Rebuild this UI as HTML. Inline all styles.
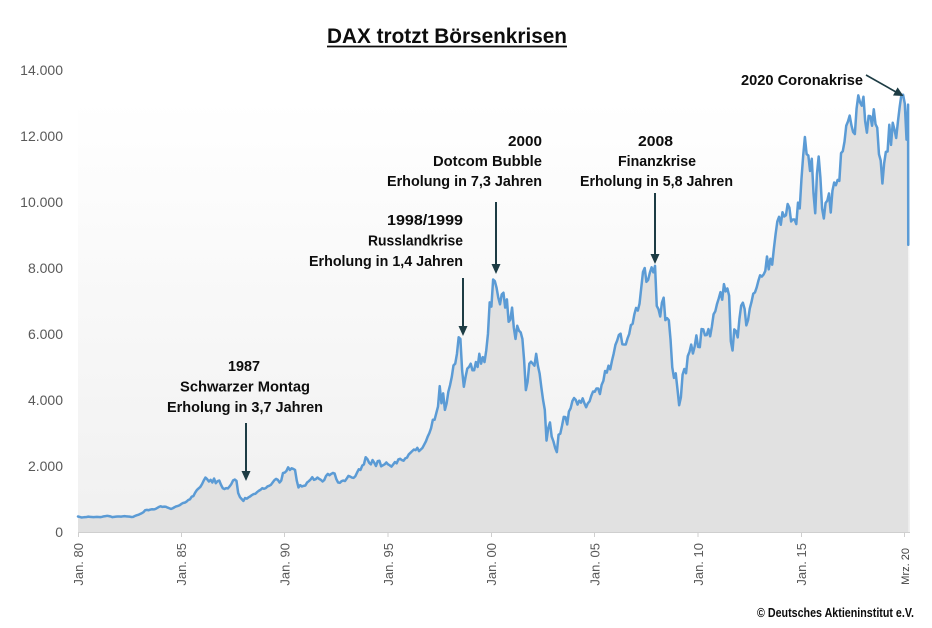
<!DOCTYPE html>
<html>
<head>
<meta charset="utf-8">
<style>
  html, body { margin: 0; padding: 0; background: #ffffff; }
  body { width: 932px; height: 628px; overflow: hidden; }
  svg { display: block; }
  .lbl { font-family: "Liberation Sans", sans-serif; fill: #595959; }
  .ann { font-family: "Liberation Sans", sans-serif; font-weight: bold; font-size: 15px; fill: #0d0d0d; }
</style>
</head>
<body>
<svg width="932" height="628" viewBox="0 0 932 628" xmlns="http://www.w3.org/2000/svg">
  <defs>
    <linearGradient id="bg" x1="0" y1="0" x2="0" y2="1">
      <stop offset="0" stop-color="#ffffff"/>
      <stop offset="1" stop-color="#f0f0f0"/>
    </linearGradient>
  </defs>

  <!-- plot background -->
  <rect x="78" y="100" width="832" height="432" fill="url(#bg)"/>

  <!-- area + line in data coordinates -->
  <g transform="translate(78,532) scale(1.7225,-0.033)">
    <polygon id="area" fill="#e1e1e1" stroke="none" points="0,470 1,455 2,440 3,445 4,450 5,455 6,465 7,460 8,455 9,450 10,455 11,460 12,455 13,450 14,460 15,475 16,480 17,490 18,480 19,470 20,450 21,460 22,465 23,470 24,470 25,465 26,475 27,480 28,475 29,470 30,465 31,455 32,460 33,485 34,505 35,520 36,545 37,570 38,600 39,660 40,670 41,660 42,680 43,690 44,685 45,700 46,730 47,760 48,780 49,760 50,770 51,765 52,740 53,720 54,700 55,720 56,750 57,775 58,790 59,810 60,850 61,880 62,890 63,920 64,970 65,990 66,1070 67,1090 68,1190 69,1270 70,1320 71,1366 72,1450 73,1560 74,1650 75,1600 76,1530 77,1580 78,1500 79,1620 80,1480 81,1540 82,1560 83,1432 84,1330 85,1300 86,1330 87,1320 88,1380 89,1450 90,1560 91,1590 92,1550 93,1180 94,1060 95,1000 96,940 97,1030 98,1010 99,1050 100,1080 101,1120 102,1150 103,1160 104,1210 105,1250 106,1280 107,1328 108,1310 109,1330 110,1380 111,1400 112,1430 113,1500 114,1570 115,1610 116,1580 117,1500 118,1560 119,1790 120,1800 121,1850 122,1960 123,1880 124,1930 125,1910 126,1880 127,1560 128,1350 129,1420 130,1380 131,1398 132,1410 133,1500 134,1540 135,1590 136,1660 137,1580 138,1600 139,1650 140,1610 141,1580 142,1530 143,1578 144,1700 145,1760 146,1720 147,1760 148,1790 149,1770 150,1600 151,1500 152,1490 153,1540 154,1560 155,1545 156,1620 157,1700 158,1680 159,1650 160,1640 161,1690 162,1800 163,1900 164,1880 165,2010 166,2050 167,2266 168,2210 169,2100 170,2050 171,2180 172,2100 173,2000 174,2150 175,2160 176,1990 177,2020 178,2050 179,2107 180,2050 181,2020 182,1980 183,2050 184,2120 185,2080 186,2200 187,2220 188,2180 189,2160 190,2230 191,2253 192,2350 193,2400 194,2450 195,2500 196,2480 197,2550 198,2450 199,2500 200,2550 201,2650 202,2750 203,2888 204,3000 205,3150 206,3400 207,3400 208,3600 209,3800 210,4420 211,3900 212,4200 213,3700 214,3900 215,4249 216,4450 217,4700 218,5050 219,5100 220,5400 221,5900 222,5850 223,4900 224,4400 225,4700 226,4950 227,5002 228,5100 229,4900 230,4900 231,5150 232,5000 233,5400 234,5100 235,5300 236,5150 237,5500 238,6000 239,6958 240,6830 241,7650 242,7600 243,7400 244,7100 245,6900 246,7200 247,7250 248,6800 249,7050 250,6370 251,6433 252,6800 253,6200 254,5850 255,6250 256,6100 257,6050 258,5850 259,5200 260,4300 261,4550 262,5100 263,5160 264,5100 265,5040 266,5400 267,5040 268,4800 269,4380 270,4000 271,3700 272,2770 273,3150 274,3320 275,2892 276,2750 277,2550 278,2420 279,2950 280,2980 281,3220 282,3490 283,3480 284,3260 285,3650 286,3750 287,3965 288,4060 289,4000 290,3860 291,3980 292,3920 293,4050 294,3900 295,3780 296,3900 297,3960 298,4130 299,4256 300,4250 301,4350 302,4350 303,4180 304,4460 305,4580 306,4880 307,4830 308,5040 309,4930 310,5190 311,5408 312,5670 313,5800 314,5970 315,6010 316,5690 317,5680 318,5680 319,5860 320,6000 321,6270 322,6310 323,6597 324,6790 325,6710 326,6920 327,7400 328,7880 329,8000 330,7580 331,7640 332,7860 333,8020 334,7870 335,8067 336,6850 337,6750 338,6530 339,6950 340,7100 341,6420 342,6480 343,6420 344,5830 345,4990 346,4670 347,4810 348,4340 349,3840 350,4080 351,4770 352,4940 353,4810 354,5330 355,5460 356,5680 357,5410 358,5620 359,5957 360,5610 361,5600 362,6150 363,6140 364,5960 365,5970 366,6150 367,5930 368,6230 369,6600 370,6690 371,6914 372,7080 373,7270 374,7040 375,7510 376,7290 377,7380 378,7160 379,5780 380,5500 381,6140 382,6090 383,5898 384,6460 385,6860 386,6950 387,6760 388,6260 389,6420 390,6770 391,6970 392,7220 393,7260 394,7410 395,7612 396,7780 397,7740 398,7800 399,7910 400,8350 401,7960 402,8280 403,8100 404,8590 405,9030 406,9410 407,9552 408,9310 409,9690 410,9560 411,9600 412,9940 413,9830 414,9410 415,9470 416,9470 417,9330 418,9980 419,9806 420,10690 421,11400 422,11970 423,11450 424,11410 425,10940 426,11310 427,10260 428,9660 429,10850 430,11380 431,10743 432,9800 433,9500 434,9970 435,10040 436,10260 437,9680 438,10340 439,10590 440,10510 441,10670 442,10640 443,11481 444,11540 445,11830 446,12310 447,12440 448,12620 449,12330 450,12120 451,12060 452,12830 453,13230 454,13020 455,12918 456,13190 457,12440 458,12100 459,12610 460,12600 461,12310 462,12810 463,12360 464,12250 465,11450 466,11260 467,10559 468,11170 469,11520 470,11530 471,12340 472,11730 473,12400 474,12190 475,11940 476,12430 477,12870 478,13240 479,13249 480,12981 481,11890 481.9,12950 482,8700 482,0 0,0"/>
    <polyline fill="none" stroke="#5b9bd5" stroke-width="2.5" stroke-linejoin="round" stroke-linecap="round" vector-effect="non-scaling-stroke" points="0,470 1,455 2,440 3,445 4,450 5,455 6,465 7,460 8,455 9,450 10,455 11,460 12,455 13,450 14,460 15,475 16,480 17,490 18,480 19,470 20,450 21,460 22,465 23,470 24,470 25,465 26,475 27,480 28,475 29,470 30,465 31,455 32,460 33,485 34,505 35,520 36,545 37,570 38,600 39,660 40,670 41,660 42,680 43,690 44,685 45,700 46,730 47,760 48,780 49,760 50,770 51,765 52,740 53,720 54,700 55,720 56,750 57,775 58,790 59,810 60,850 61,880 62,890 63,920 64,970 65,990 66,1070 67,1090 68,1190 69,1270 70,1320 71,1366 72,1450 73,1560 74,1650 75,1600 76,1530 77,1580 78,1500 79,1620 80,1480 81,1540 82,1560 83,1432 84,1330 85,1300 86,1330 87,1320 88,1380 89,1450 90,1560 91,1590 92,1550 93,1180 94,1060 95,1000 96,940 97,1030 98,1010 99,1050 100,1080 101,1120 102,1150 103,1160 104,1210 105,1250 106,1280 107,1328 108,1310 109,1330 110,1380 111,1400 112,1430 113,1500 114,1570 115,1610 116,1580 117,1500 118,1560 119,1790 120,1800 121,1850 122,1960 123,1880 124,1930 125,1910 126,1880 127,1560 128,1350 129,1420 130,1380 131,1398 132,1410 133,1500 134,1540 135,1590 136,1660 137,1580 138,1600 139,1650 140,1610 141,1580 142,1530 143,1578 144,1700 145,1760 146,1720 147,1760 148,1790 149,1770 150,1600 151,1500 152,1490 153,1540 154,1560 155,1545 156,1620 157,1700 158,1680 159,1650 160,1640 161,1690 162,1800 163,1900 164,1880 165,2010 166,2050 167,2266 168,2210 169,2100 170,2050 171,2180 172,2100 173,2000 174,2150 175,2160 176,1990 177,2020 178,2050 179,2107 180,2050 181,2020 182,1980 183,2050 184,2120 185,2080 186,2200 187,2220 188,2180 189,2160 190,2230 191,2253 192,2350 193,2400 194,2450 195,2500 196,2480 197,2550 198,2450 199,2500 200,2550 201,2650 202,2750 203,2888 204,3000 205,3150 206,3400 207,3400 208,3600 209,3800 210,4420 211,3900 212,4200 213,3700 214,3900 215,4249 216,4450 217,4700 218,5050 219,5100 220,5400 221,5900 222,5850 223,4900 224,4400 225,4700 226,4950 227,5002 228,5100 229,4900 230,4900 231,5150 232,5000 233,5400 234,5100 235,5300 236,5150 237,5500 238,6000 239,6958 240,6830 241,7650 242,7600 243,7400 244,7100 245,6900 246,7200 247,7250 248,6800 249,7050 250,6370 251,6433 252,6800 253,6200 254,5850 255,6250 256,6100 257,6050 258,5850 259,5200 260,4300 261,4550 262,5100 263,5160 264,5100 265,5040 266,5400 267,5040 268,4800 269,4380 270,4000 271,3700 272,2770 273,3150 274,3320 275,2892 276,2750 277,2550 278,2420 279,2950 280,2980 281,3220 282,3490 283,3480 284,3260 285,3650 286,3750 287,3965 288,4060 289,4000 290,3860 291,3980 292,3920 293,4050 294,3900 295,3780 296,3900 297,3960 298,4130 299,4256 300,4250 301,4350 302,4350 303,4180 304,4460 305,4580 306,4880 307,4830 308,5040 309,4930 310,5190 311,5408 312,5670 313,5800 314,5970 315,6010 316,5690 317,5680 318,5680 319,5860 320,6000 321,6270 322,6310 323,6597 324,6790 325,6710 326,6920 327,7400 328,7880 329,8000 330,7580 331,7640 332,7860 333,8020 334,7870 335,8067 336,6850 337,6750 338,6530 339,6950 340,7100 341,6420 342,6480 343,6420 344,5830 345,4990 346,4670 347,4810 348,4340 349,3840 350,4080 351,4770 352,4940 353,4810 354,5330 355,5460 356,5680 357,5410 358,5620 359,5957 360,5610 361,5600 362,6150 363,6140 364,5960 365,5970 366,6150 367,5930 368,6230 369,6600 370,6690 371,6914 372,7080 373,7270 374,7040 375,7510 376,7290 377,7380 378,7160 379,5780 380,5500 381,6140 382,6090 383,5898 384,6460 385,6860 386,6950 387,6760 388,6260 389,6420 390,6770 391,6970 392,7220 393,7260 394,7410 395,7612 396,7780 397,7740 398,7800 399,7910 400,8350 401,7960 402,8280 403,8100 404,8590 405,9030 406,9410 407,9552 408,9310 409,9690 410,9560 411,9600 412,9940 413,9830 414,9410 415,9470 416,9470 417,9330 418,9980 419,9806 420,10690 421,11400 422,11970 423,11450 424,11410 425,10940 426,11310 427,10260 428,9660 429,10850 430,11380 431,10743 432,9800 433,9500 434,9970 435,10040 436,10260 437,9680 438,10340 439,10590 440,10510 441,10670 442,10640 443,11481 444,11540 445,11830 446,12310 447,12440 448,12620 449,12330 450,12120 451,12060 452,12830 453,13230 454,13020 455,12918 456,13190 457,12440 458,12100 459,12610 460,12600 461,12310 462,12810 463,12360 464,12250 465,11450 466,11260 467,10559 468,11170 469,11520 470,11530 471,12340 472,11730 473,12400 474,12190 475,11940 476,12430 477,12870 478,13240 479,13249 480,12981 481,11890 481.9,12950 482,8700"/>
  </g>

  <!-- x axis -->
  <line x1="78" y1="532.5" x2="910" y2="532.5" stroke="#cfcfcf" stroke-width="1"/>
  <g stroke="#cfcfcf" stroke-width="1">
    <line x1="78.5" y1="532" x2="78.5" y2="537"/>
    <line x1="181.5" y1="532" x2="181.5" y2="537"/>
    <line x1="284.5" y1="532" x2="284.5" y2="537"/>
    <line x1="388" y1="532" x2="388" y2="537"/>
    <line x1="491.5" y1="532" x2="491.5" y2="537"/>
    <line x1="594.5" y1="532" x2="594.5" y2="537"/>
    <line x1="698" y1="532" x2="698" y2="537"/>
    <line x1="801.5" y1="532" x2="801.5" y2="537"/>
    <line x1="904.5" y1="532" x2="904.5" y2="537"/>
  </g>

  <!-- y labels -->
  <g class="lbl" font-size="14" text-anchor="end">
    <text x="63" y="75">14.000</text>
    <text x="63" y="141">12.000</text>
    <text x="63" y="207">10.000</text>
    <text x="63" y="273">8.000</text>
    <text x="63" y="339">6.000</text>
    <text x="63" y="405">4.000</text>
    <text x="63" y="471">2.000</text>
    <text x="63" y="537">0</text>
  </g>

  <!-- x labels -->
  <g class="lbl" font-size="13" text-anchor="end">
    <text transform="translate(83,543) rotate(-90)">Jan. 80</text>
    <text transform="translate(186,543) rotate(-90)">Jan. 85</text>
    <text transform="translate(289.5,543) rotate(-90)">Jan. 90</text>
    <text transform="translate(393,543) rotate(-90)">Jan. 95</text>
    <text transform="translate(496,543) rotate(-90)">Jan. 00</text>
    <text transform="translate(599.5,543) rotate(-90)">Jan. 05</text>
    <text transform="translate(703,543) rotate(-90)">Jan. 10</text>
    <text transform="translate(806,543) rotate(-90)">Jan. 15</text>
    <text transform="translate(909,548) rotate(-90)" font-size="11" fill="#404040">Mrz. 20</text>
  </g>

  <!-- title -->
  <text x="327" y="43" font-family="Liberation Sans, sans-serif" font-weight="bold" font-size="21" fill="#0d0d0d" textLength="240" lengthAdjust="spacingAndGlyphs">DAX trotzt Börsenkrisen</text>
  <line x1="327" y1="46.5" x2="567" y2="46.5" stroke="#0d0d0d" stroke-width="1.8"/>

  <!-- annotations -->
  <g class="ann">
    <text x="741" y="85" textLength="122" lengthAdjust="spacingAndGlyphs">2020 Coronakrise</text>

    <text x="508" y="146" textLength="34" lengthAdjust="spacingAndGlyphs">2000</text>
    <text x="433" y="166" textLength="109" lengthAdjust="spacingAndGlyphs">Dotcom Bubble</text>
    <text x="387" y="186" textLength="155" lengthAdjust="spacingAndGlyphs">Erholung in 7,3 Jahren</text>

    <text x="638" y="146" textLength="35" lengthAdjust="spacingAndGlyphs">2008</text>
    <text x="618" y="166" textLength="78" lengthAdjust="spacingAndGlyphs">Finanzkrise</text>
    <text x="580" y="186" textLength="153" lengthAdjust="spacingAndGlyphs">Erholung in 5,8 Jahren</text>

    <text x="387" y="225" textLength="76" lengthAdjust="spacingAndGlyphs">1998/1999</text>
    <text x="368" y="245.5" textLength="95" lengthAdjust="spacingAndGlyphs">Russlandkrise</text>
    <text x="309" y="266" textLength="154" lengthAdjust="spacingAndGlyphs">Erholung in 1,4 Jahren</text>

    <text x="228" y="371" textLength="32" lengthAdjust="spacingAndGlyphs">1987</text>
    <text x="180" y="391.5" textLength="130" lengthAdjust="spacingAndGlyphs">Schwarzer Montag</text>
    <text x="167" y="412" textLength="156" lengthAdjust="spacingAndGlyphs">Erholung in 3,7 Jahren</text>
  </g>

  <!-- arrows -->
  <g stroke="#1d3c44" stroke-width="2" fill="#1d3c44">
    <line x1="246" y1="423" x2="246" y2="472"/>
    <polygon stroke="none" points="241.5,471 250.5,471 246,481"/>
    <line x1="463" y1="278" x2="463" y2="327"/>
    <polygon stroke="none" points="458.5,326 467.5,326 463,336"/>
    <line x1="496" y1="202" x2="496" y2="265"/>
    <polygon stroke="none" points="491.5,264 500.5,264 496,274"/>
    <line x1="655" y1="193" x2="655" y2="255"/>
    <polygon stroke="none" points="650.5,254 659.5,254 655,264"/>
    <line x1="866" y1="75" x2="896" y2="92" stroke-width="1.6"/>
    <polygon stroke="none" points="893,95.5 897.6,87.4 903.5,96"/>
  </g>

  <!-- copyright -->
  <text x="757" y="617" font-family="Liberation Sans, sans-serif" font-weight="bold" font-size="12.5" fill="#0d0d0d" textLength="157" lengthAdjust="spacingAndGlyphs">© Deutsches Aktieninstitut e.V.</text>
</svg>
</body>
</html>
